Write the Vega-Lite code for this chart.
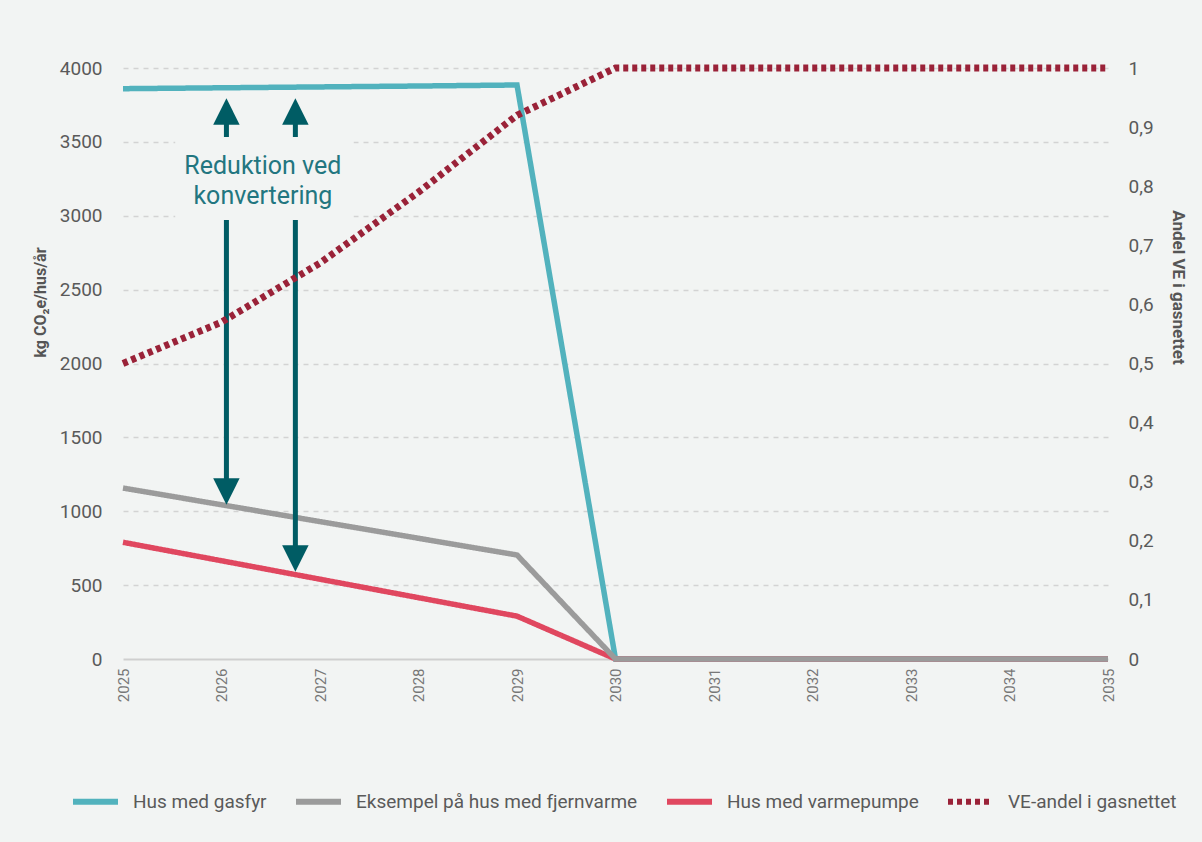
{
  "$schema": "https://vega.github.io/schema/vega-lite/v6.json",
  "width": 985,
  "height": 591,
  "autosize": {"type": "none"},
  "padding": {"left": 123, "top": 68, "right": 94, "bottom": 183},
  "background": "#f2f4f3",
  "config": {
    "view": {"stroke": null},
    "font": "Roboto",
    "axis": {"domain": false, "ticks": false},
    "legend": {
      "orient": "none",
      "legendX": -53,
      "legendY": 708,
      "direction": "horizontal",
      "symbolType": "stroke",
      "symbolSize": 2025,
      "symbolStrokeWidth": 6,
      "labelFontSize": 19,
      "labelColor": "#5a5a5a",
      "labelFont": "Roboto",
      "labelLimit": 0,
      "columnPadding": 17,
      "labelOffset": 12,
      "title": null
    }
  },
  "datasets": {
    "series": [
      {"year": 2025, "serie": "Hus med gasfyr", "value": 3860},
      {"year": 2026, "serie": "Hus med gasfyr", "value": 3866},
      {"year": 2027, "serie": "Hus med gasfyr", "value": 3872},
      {"year": 2028, "serie": "Hus med gasfyr", "value": 3878},
      {"year": 2029, "serie": "Hus med gasfyr", "value": 3885},
      {"year": 2030, "serie": "Hus med gasfyr", "value": 0},
      {"year": 2031, "serie": "Hus med gasfyr", "value": 0},
      {"year": 2032, "serie": "Hus med gasfyr", "value": 0},
      {"year": 2033, "serie": "Hus med gasfyr", "value": 0},
      {"year": 2034, "serie": "Hus med gasfyr", "value": 0},
      {"year": 2035, "serie": "Hus med gasfyr", "value": 0},
      {"year": 2025, "serie": "Hus med varmepumpe", "value": 790},
      {"year": 2026, "serie": "Hus med varmepumpe", "value": 665},
      {"year": 2027, "serie": "Hus med varmepumpe", "value": 540},
      {"year": 2028, "serie": "Hus med varmepumpe", "value": 415},
      {"year": 2029, "serie": "Hus med varmepumpe", "value": 290},
      {"year": 2030, "serie": "Hus med varmepumpe", "value": 0},
      {"year": 2031, "serie": "Hus med varmepumpe", "value": 0},
      {"year": 2032, "serie": "Hus med varmepumpe", "value": 0},
      {"year": 2033, "serie": "Hus med varmepumpe", "value": 0},
      {"year": 2034, "serie": "Hus med varmepumpe", "value": 0},
      {"year": 2035, "serie": "Hus med varmepumpe", "value": 0},
      {"year": 2025, "serie": "Eksempel på hus med fjernvarme", "value": 1157},
      {"year": 2026, "serie": "Eksempel på hus med fjernvarme", "value": 1044},
      {"year": 2027, "serie": "Eksempel på hus med fjernvarme", "value": 930},
      {"year": 2028, "serie": "Eksempel på hus med fjernvarme", "value": 817},
      {"year": 2029, "serie": "Eksempel på hus med fjernvarme", "value": 704},
      {"year": 2030, "serie": "Eksempel på hus med fjernvarme", "value": 0},
      {"year": 2031, "serie": "Eksempel på hus med fjernvarme", "value": 0},
      {"year": 2032, "serie": "Eksempel på hus med fjernvarme", "value": 0},
      {"year": 2033, "serie": "Eksempel på hus med fjernvarme", "value": 0},
      {"year": 2034, "serie": "Eksempel på hus med fjernvarme", "value": 0},
      {"year": 2035, "serie": "Eksempel på hus med fjernvarme", "value": 0},
      {"year": 2025, "serie": "VE-andel i gasnettet", "value": 0.5},
      {"year": 2026, "serie": "VE-andel i gasnettet", "value": 0.57},
      {"year": 2027, "serie": "VE-andel i gasnettet", "value": 0.67},
      {"year": 2028, "serie": "VE-andel i gasnettet", "value": 0.79},
      {"year": 2029, "serie": "VE-andel i gasnettet", "value": 0.92},
      {"year": 2030, "serie": "VE-andel i gasnettet", "value": 1},
      {"year": 2031, "serie": "VE-andel i gasnettet", "value": 1},
      {"year": 2032, "serie": "VE-andel i gasnettet", "value": 1},
      {"year": 2033, "serie": "VE-andel i gasnettet", "value": 1},
      {"year": 2034, "serie": "VE-andel i gasnettet", "value": 1},
      {"year": 2035, "serie": "VE-andel i gasnettet", "value": 1}
    ],
    "box": [
      {"year": 2025.53, "year2": 2027.34, "value": 2960, "value2": 3540}
    ],
    "shafts": [
      {"year": 2026.05, "value": 3533, "value2": 3650},
      {"year": 2026.75, "value": 3533, "value2": 3650},
      {"year": 2026.05, "value": 2971, "value2": 1180},
      {"year": 2026.75, "value": 2971, "value2": 740}
    ],
    "heads": [
      {"year": 2026.05, "value": 3705, "dir": "up"},
      {"year": 2026.75, "value": 3705, "dir": "up"},
      {"year": 2026.05, "value": 1134, "dir": "down"},
      {"year": 2026.75, "value": 680, "dir": "down"}
    ],
    "notes": [
      {"year": 2026.42, "value": 3282, "text": "Reduktion ved"},
      {"year": 2026.42, "value": 3079, "text": "konvertering"}
    ]
  },
  "layer": [
    {
      "layer": [
        {
          "data": {"name": "box"},
          "mark": {"type": "rect", "fill": "#f2f4f3", "strokeWidth": 0},
          "encoding": {
            "x": {
              "field": "year", "type": "quantitative",
              "scale": {"domain": [2025, 2035], "nice": false, "zero": false},
              "axis": {
                "values": [2025, 2026, 2027, 2028, 2029, 2030, 2031, 2032, 2033, 2034, 2035],
                "format": "d",
                "labelAngle": -90,
                "labelFontSize": 15,
                "labelColor": "#777777",
                "labelPadding": 9,
                "grid": false,
                "title": null
              }
            },
            "x2": {"field": "year2"},
            "y": {
              "field": "value", "type": "quantitative",
              "scale": {"domain": [0, 4000], "nice": false},
              "axis": {
                "values": [0, 500, 1000, 1500, 2000, 2500, 3000, 3500, 4000],
                "format": "d",
                "grid": true,
                "gridColor": {"condition": {"test": "datum.value === 0", "value": "#cfcfcf"}, "value": "#d3d3d3"},
                "gridDash": {"condition": {"test": "datum.value === 0", "value": []}, "value": [5, 5]},
                "gridWidth": {"condition": {"test": "datum.value === 0", "value": 2}, "value": 1.5},
                "labelFontSize": 19,
                "labelColor": "#5a5a5a",
                "labelPadding": 21,
                "title": "kg CO₂e/hus/år",
                "titleFontSize": 16,
                "titleFontWeight": "bold",
                "titleColor": "#555555",
                "titleAngle": -90,
                "titleX": -83,
                "titleY": 234,
                "titleAlign": "center",
                "titleBaseline": "middle"
              }
            },
            "y2": {"field": "value2"}
          }
        },
        {
          "data": {"name": "series"},
          "transform": [{"filter": "datum.serie !== 'VE-andel i gasnettet'"}],
          "mark": {"type": "line", "strokeWidth": 5.5},
          "encoding": {
            "x": {"field": "year", "type": "quantitative"},
            "y": {"field": "value", "type": "quantitative"},
            "color": {
              "field": "serie", "type": "nominal",
              "scale": {
                "domain": ["Hus med gasfyr", "Eksempel på hus med fjernvarme", "Hus med varmepumpe", "VE-andel i gasnettet"],
                "range": ["#52b2bd", "#9b9b9b", "#e0475f", "#9a2238"]
              },
              "sort": null
            },
            "strokeDash": {
              "field": "serie", "type": "nominal",
              "scale": {
                "domain": ["Hus med gasfyr", "Eksempel på hus med fjernvarme", "Hus med varmepumpe", "VE-andel i gasnettet"],
                "range": [[1, 0], [1, 0], [1, 0], [5, 4]]
              },
              "sort": null
            }
          }
        },
        {
          "data": {"name": "shafts"},
          "mark": {"type": "rule", "strokeWidth": 5, "color": "#005c64"},
          "encoding": {
            "x": {"field": "year", "type": "quantitative"},
            "y": {"field": "value", "type": "quantitative"},
            "y2": {"field": "value2"}
          }
        },
        {
          "data": {"name": "heads"},
          "mark": {"type": "point", "filled": true, "opacity": 1, "size": 700, "color": "#005c64", "strokeWidth": 0},
          "encoding": {
            "x": {"field": "year", "type": "quantitative"},
            "y": {"field": "value", "type": "quantitative"},
            "shape": {
              "field": "dir", "type": "nominal",
              "scale": {"domain": ["up", "down"], "range": ["M0,-1L1,1L-1,1Z", "M-1,-1L1,-1L0,1Z"]},
              "legend": null
            }
          }
        },
        {
          "data": {"name": "notes"},
          "mark": {"type": "text", "fontSize": 25, "font": "Roboto", "color": "#227680", "align": "center", "baseline": "alphabetic"},
          "encoding": {
            "x": {"field": "year", "type": "quantitative"},
            "y": {"field": "value", "type": "quantitative"},
            "text": {"field": "text"}
          }
        }
      ]
    },
    {
      "data": {"name": "series"},
      "transform": [{"filter": "datum.serie === 'VE-andel i gasnettet'"}],
      "mark": {"type": "line", "strokeWidth": 7},
      "encoding": {
        "x": {"field": "year", "type": "quantitative"},
        "y": {
          "field": "value", "type": "quantitative",
          "scale": {"domain": [0, 1], "nice": false},
          "axis": {
            "orient": "right",
            "values": [0, 0.1, 0.2, 0.3, 0.4, 0.5, 0.6, 0.7, 0.8, 0.9, 1],
            "format": ".1~f",
            "labelExpr": "replace(datum.label, '.', ',')",
            "grid": false,
            "labelFontSize": 19,
            "labelColor": "#5a5a5a",
            "labelPadding": 20,
            "title": "Andel VE i gasnettet",
            "titleFontSize": 17,
            "titleFontWeight": "bold",
            "titleColor": "#555555",
            "titleAngle": 90,
            "titleX": 69,
            "titleY": 219,
            "titleAlign": "center",
            "titleBaseline": "middle"
          }
        },
        "color": {
          "field": "serie", "type": "nominal",
          "scale": {
            "domain": ["Hus med gasfyr", "Eksempel på hus med fjernvarme", "Hus med varmepumpe", "VE-andel i gasnettet"],
            "range": ["#52b2bd", "#9b9b9b", "#e0475f", "#9a2238"]
          },
          "sort": null
        },
        "strokeDash": {
          "field": "serie", "type": "nominal",
          "scale": {
            "domain": ["Hus med gasfyr", "Eksempel på hus med fjernvarme", "Hus med varmepumpe", "VE-andel i gasnettet"],
            "range": [[1, 0], [1, 0], [1, 0], [5, 4]]
          },
          "sort": null
        }
      }
    }
  ],
  "resolve": {"scale": {"y": "independent"}}
}
